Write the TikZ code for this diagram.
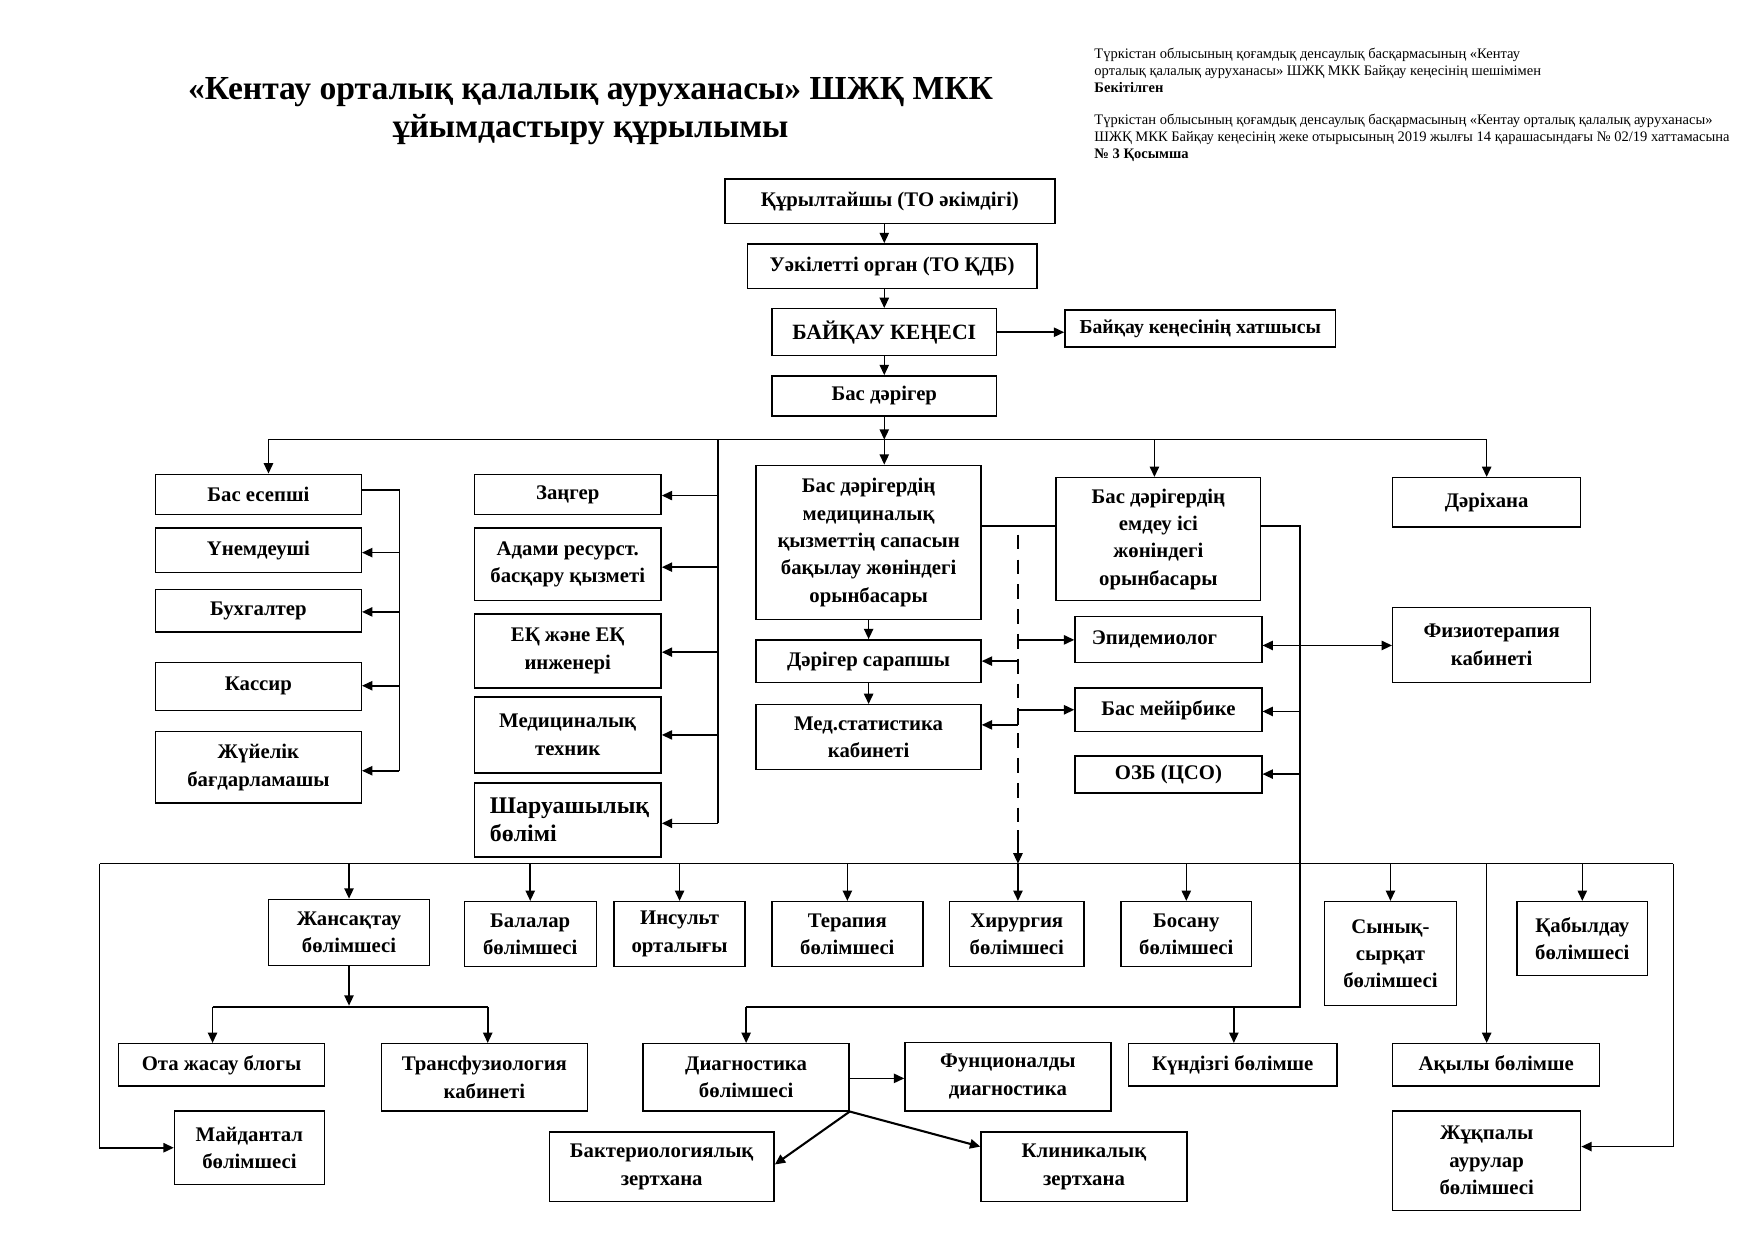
\documentclass[tikz,border=0pt]{standalone}
\usepackage{fontspec}
\setmainfont{Liberation Serif}
\usetikzlibrary{arrows.meta}
\tikzset{
  box/.style={draw, line width=0.7pt, fill=white, inner sep=0pt, align=center,
    font=\bfseries\fontsize{10}{13.2}\selectfont},
  ln/.style={line width=0.75pt},
  arr/.style={line width=0.75pt, -{Triangle[length=5pt,width=4.5pt]}},
  darr/.style={line width=0.75pt, {Triangle[length=5pt,width=4.5pt]}-{Triangle[length=5pt,width=4.5pt]}},
  dashline/.style={line width=0.75pt, dash pattern=on 2.5mm off 1.7mm},
  notetext/.style={anchor=west, align=left, inner sep=0pt, font=\fontsize{7}{8.3}\selectfont},
}
\newcommand\BX[7][]{\node[box,minimum width={(#5-#3)*0.18941mm},minimum height={(#6-#4)*0.18941mm},#1] (#2) at ({(#3+#5)/2},{(#4+#6)/2}) {#7};}
\begin{document}
\begin{tikzpicture}[x=0.18941mm,y=-0.18941mm]
\fill[white] (0,0) rectangle (1568,1109);
\path[use as bounding box] (0,0) rectangle (1568,1109);

% title and note
\node[font=\bfseries\fontsize{16.2}{18.3}\selectfont, align=center] (title) at (528,99)
  {«Кентау орталық қалалық ауруханасы» ШЖҚ МКК\\ұйымдастыру құрылымы};
\node[notetext] (note1) at (978,63) {Түркістан облысының қоғамдық денсаулық басқармасының «Кентау\\орталық қалалық ауруханасы» ШЖҚ МКК Байқау кеңесінің шешімімен\\\textbf{Бекітілген}};
\node[notetext] (note2) at (978,123) {Түркістан облысының қоғамдық денсаулық басқармасының «Кентау орталық қалалық ауруханасы»\\ШЖҚ МКК Байқау кеңесінің жеке отырысының 2019 жылғы 14 қарашасындағы № 02/19 хаттамасына\\\textbf{№ 3 Қосымша}};

% top chain
\BX{qur}{648}{160}{943}{200}{Құрылтайшы (ТО әкімдігі)}
\BX{uak}{668}{218}{927}{258}{Уәкілетті орган (ТО ҚДБ)}
\BX[font=\bfseries\fontsize{10.5}{13}\selectfont]{bk}{690}{276}{891}{318}{БАЙҚАУ КЕҢЕСІ}
\BX[font=\bfseries\fontsize{9.5}{12}\selectfont]{hat}{952}{277}{1194}{310}{Байқау кеңесінің хатшысы}
\BX{bd}{690}{336}{891}{372}{Бас дәрігер}

% left column
\BX{besep}{139}{424}{323}{460}{Бас есепші}
\BX{unem}{139}{472}{323}{512}{Үнемдеуші}
\BX{buh}{139}{527}{323}{565}{Бухгалтер}
\BX{kas}{139}{592}{323}{635}{Кассир}
\BX{zhuy}{139}{654}{323}{718}{Жүйелік\\бағдарламашы}

% admin column
\BX{zan}{424}{424}{591}{460}{Заңгер}
\BX{adam}{424}{472}{591}{537}{Адами ресурст.\\басқару қызметі}
\BX{ek}{424}{549}{591}{615}{ЕҚ және ЕҚ\\инженері}
\BX{med}{424}{623}{591}{691}{Медициналық\\техник}
\node[box, font=\bfseries\fontsize{11.5}{13.5}\selectfont, align=left, inner xsep={14*0.18941mm},
  text width={(167-28)*0.18941mm}, minimum height={66*0.18941mm}] (shar) at (507.5,733) {Шаруашылық\\бөлімі};

% deputies and middle
\BX{orin1}{676}{416}{877}{554}{Бас дәрігердің\\медициналық\\қызметтің сапасын\\бақылау жөніндегі\\орынбасары}
\BX{orin2}{944}{427}{1127}{537}{Бас дәрігердің\\емдеу ісі\\жөніндегі\\орынбасары}
\BX{dar}{1245}{427}{1413}{471}{Дәріхана}
\BX{fiz}{1245}{543}{1422}{610}{Физиотерапия\\кабинеті}
\BX{sar}{676}{572}{877}{610}{Дәрігер сарапшы}
\BX{stat}{676}{630}{877}{688}{Мед.статистика\\кабинеті}
\node[box, align=left, inner xsep={15*0.18941mm}, text width={(167-30)*0.18941mm},
  minimum height={41*0.18941mm}] (epi) at (1044.5,571.5) {Эпидемиолог};
\BX{mey}{961}{615}{1128}{654}{Бас мейірбике}
\BX{ozb}{961}{676}{1128}{709}{ОЗБ (ЦСО)}

% bottom row 1
\BX{zhan}{240}{804}{384}{863}{Жансақтау\\бөлімшесі}
\BX{bal}{415}{806}{533}{864}{Балалар\\бөлімшесі}
\BX{ins}{549}{806}{666}{864}{Инсульт\\орталығы}
\BX{ter}{690}{806}{825}{864}{Терапия\\бөлімшесі}
\BX{hir}{849}{806}{969}{864}{Хирургия\\бөлімшесі}
\BX{bos}{1002}{806}{1119}{864}{Босану\\бөлімшесі}
\BX{syn}{1184}{806}{1302}{899}{Сынық-\\сырқат\\бөлімшесі}
\BX{qab}{1356}{806}{1473}{872}{Қабылдау\\бөлімшесі}

% bottom row 2
\BX{ota}{106}{933}{290}{971}{Ота жасау блогы}
\BX{trans}{341}{933}{525}{993}{Трансфузиология\\кабинеті}
\BX{maid}{156}{993}{290}{1059}{Майдантал\\бөлімшесі}
\BX{diag}{575}{933}{759}{993}{Диагностика\\бөлімшесі}
\BX{func}{809}{932}{993}{993}{Фунционалды\\диагностика}
\BX{bakt}{491}{1012}{692}{1074}{Бактериологиялық\\зертхана}
\BX{klin}{877}{1012}{1061}{1074}{Клиникалық\\зертхана}
\BX{kund}{1009}{933}{1195}{971}{Күндізгі бөлімше}
\BX{aqyl}{1245}{933}{1430}{971}{Ақылы бөлімше}
\BX{zhuq}{1245}{993}{1413}{1082}{Жұқпалы\\аурулар\\бөлімшесі}

% ---- connectors: top chain
\coordinate (vx) at (790.5,0);
\draw[arr] (qur.south -| vx) -- (uak.north -| vx);
\draw[arr] (uak.south -| vx) -- (bk.north -| vx);
\draw[arr] (bk.south -| vx) -- (bd.north -| vx);
\draw[arr] (bk.east) -- (bk.east -| hat.west);

% first bus
\coordinate (b1L) at (240,393);
\coordinate (b1R) at (1329,393);
\coordinate (b1c) at (1032,393);
\coordinate (b1a) at (642,393);
\draw[arr] (bd.south) -- (bd.south |- b1L);
\draw[ln] (b1L) -- (b1R);
\draw[arr] (b1L) -- (b1L |- besep.north);
\draw[arr] (bd.south |- b1L) -- (bd.south |- orin1.north);
\draw[arr] (b1c) -- (b1c |- orin2.north);
\draw[arr] (b1R) -- (b1R |- dar.north);

% left column connectors
\coordinate (lc0) at (357,438);
\coordinate (lc1) at (357,494);
\coordinate (lc2) at (357,547);
\coordinate (lc3) at (357,613);
\coordinate (lc4) at (357,689);
\draw[ln] (lc0 -| besep.east) -- (lc0) -- (lc4);
\draw[arr] (lc1) -- (lc1 -| unem.east);
\draw[arr] (lc2) -- (lc2 -| buh.east);
\draw[arr] (lc3) -- (lc3 -| kas.east);
\draw[arr] (lc4) -- (lc4 -| zhuy.east);

% admin connectors
\coordinate (ac1) at (642,443);
\coordinate (ac2) at (642,507);
\coordinate (ac3) at (642,583);
\coordinate (ac4) at (642,657);
\coordinate (ac5) at (642,736);
\draw[ln] (b1a) -- (ac5);
\draw[arr] (ac1) -- (ac1 -| zan.east);
\draw[arr] (ac2) -- (ac2 -| adam.east);
\draw[arr] (ac3) -- (ac3 -| ek.east);
\draw[arr] (ac4) -- (ac4 -| med.east);
\draw[arr] (ac5) -- (ac5 -| shar.east);

% deputies
\coordinate (oy) at (0,470);
\coordinate (rv1) at (1162,470);
\coordinate (rv2) at (1162,900);
\coordinate (dg) at (667,900);
\coordinate (kd) at (1103,900);
\coordinate (rm) at (1162,636);
\coordinate (ro) at (1162,692);
\draw[ln] (orin1.east |- oy) -- (orin2.west |- oy);
\draw[ln] (orin2.east |- oy) -- (rv1) -- (rv2) -- (dg);
\draw[arr] (dg) -- (dg |- diag.north);
\draw[arr] (kd) -- (kd |- kund.north);
\draw[arr] (rm) -- (rm -| mey.east);
\draw[arr] (ro) -- (ro -| ozb.east);

\draw[arr] (orin1.south) -- (sar.north);
\draw[arr] (sar.south) -- (stat.north);

% dashed line
\coordinate (dt) at (910,478);
\coordinate (dm) at (910,742);
\coordinate (db) at (910,772);
\coordinate (de) at (910,572);
\coordinate (ds) at (910,591);
\coordinate (dq) at (910,648);
\draw[dashline] (dt) -- (dm);
\draw[arr] (dm) -- (db);
\draw[arr] (de) -- (de -| epi.west);
\draw[arr] (ds) -- (ds -| sar.east);
\draw[arr] (dq) |- (mey.west);
\draw[arr] (dq) -- (dq -| stat.east);

\coordinate (fy) at (0,577);
\draw[darr] (epi.east |- fy) -- (fiz.west |- fy);

% second bus
\coordinate (b2L) at (89,772);
\coordinate (b2R) at (1496,772);
\coordinate (aq) at (1329,772);
\coordinate (zq) at (1496,1025);
\draw[ln] (b2L) -- (b2R);
\draw[arr] (b2L) |- (maid.west);
\draw[arr] (b2R) -- (zq) -- (zq -| zhuq.east);
\draw[arr] (zhan.north |- b2L) -- (zhan.north);
\draw[arr] (bal.north |- b2L) -- (bal.north);
\draw[arr] (ins.north |- b2L) -- (ins.north);
\draw[arr] (ter.north |- b2L) -- (ter.north);
\draw[arr] (db) -- (db |- hir.north);
\draw[arr] (bos.north |- b2L) -- (bos.north);
\draw[arr] (syn.north |- b2L) -- (syn.north);
\draw[arr] (qab.north |- b2L) -- (qab.north);
\draw[arr] (aq) -- (aq |- aqyl.north);

% Жансақтау branch
\coordinate (zj) at (312,899);
\coordinate (zl) at (190,900);
\coordinate (zr) at (436,900);
\draw[arr] (zhan.south) -- (zj);
\draw[ln] (zl) -- (zr);
\draw[arr] (zl) -- (zl |- ota.north);
\draw[arr] (zr) -- (zr |- trans.north);

% Диагностика branch
\coordinate (fdy) at (0,964);
\coordinate (bky) at (0,1041);
\coordinate (kly) at (0,1025);
\draw[arr] (diag.east |- fdy) -- (func.west |- fdy);
\draw[arr, line width=1pt] (diag.south east) -- (bakt.east |- bky);
\draw[arr, line width=1pt] (diag.south east) -- (klin.west |- kly);
\end{tikzpicture}
\end{document}
